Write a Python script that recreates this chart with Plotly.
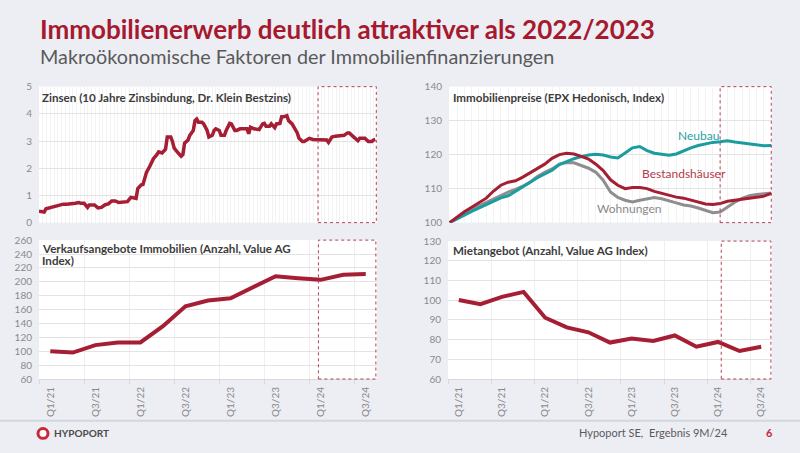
import plotly.graph_objects as go

W, H = 800, 453
def px(x): return x / W
def py(y): return 1 - y / H

# ---------------- data ----------------
# Zinsen (10 Jahre Zinsbindung), weekly index since Jan 2021
zins_weeks = [0,2,3,4,6,8,10,12,14,16,19,21,23,24,26,28,29,32,34,36,38,40,42,44,46,48,50,51,53,54,
              56,57,59,60,62,64,66,68,69,71,73,74,76,77,78,80,82,83,84,86,87,89,90,91,92,94,95,97,98,100,
              101,102,104,105,107,108,110,111,113,114,116,119,120,121,122,124,126,127,129,130,
              131,133,134,136,137,139,140,141,143,144,146,147,149,150,152,153,155,156,158,161,
              164,166,167,169,171,174,176,178,179,181,182,184,185,188,190,192,193,194]
zins_values = [0.42,0.42,0.39,0.51,0.54,0.6,0.62,0.65,0.68,0.68,0.68,0.71,0.74,0.71,0.71,0.56,0.65,0.65,0.54,0.56,
               0.65,0.69,0.8,0.8,0.74,0.74,0.74,0.77,0.93,0.92,0.89,1.25,1.39,1.4,1.85,2.08,2.35,2.5,2.6,2.56,
               2.7,3.15,3.15,2.98,2.74,2.58,2.44,2.5,2.92,3.04,3.21,3.39,3.75,3.81,3.69,3.69,3.63,3.39,3.15,3.21,
               3.39,3.45,3.39,3.21,3.21,3.39,3.65,3.63,3.39,3.39,3.45,3.45,3.45,3.27,3.51,3.45,3.42,3.42,3.63,3.65,
               3.54,3.54,3.63,3.49,3.63,3.65,3.89,3.89,3.93,3.75,3.63,3.51,3.3,3.1,2.98,2.98,3.04,3.1,3.06,3.06,
               3.06,3.04,2.95,3.15,3.18,3.18,3.21,3.3,3.3,3.18,3.13,3.01,3.1,3.1,2.98,2.98,3.04,3.06]

# EPX Hedonisch, monthly Jan 2021 - Sep 2024
months = list(range(45))
neubau = [100,101.2,102.2,103.3,104.3,105.3,106.3,107.3,107.9,109.2,110.7,112,113.2,114.3,115.4,117.1,118,118.8,
          119.4,119.9,120.1,119.9,119.3,119,120.5,122,122.4,121.2,120.4,120,119.8,120.2,121.2,122,122.7,123.2,
          123.6,123.8,124.1,123.7,123.4,123.2,123,122.6,122.7]
bestand = [100,101.6,103.2,104.5,105.8,107.2,109.3,111,111.9,112.3,113.4,114.7,115.8,117.2,118.9,120,120.4,120.2,
           119.5,118.7,117.2,115.3,112.6,111,110,110.3,110.3,110,109.2,108.6,108,107.5,107.2,106.7,106,105.5,
           105.3,105.6,106.3,106.6,106.9,107.1,107.3,107.8,108.6]
wohnungen = [100,101.5,102.8,103.9,104.9,106,107.1,108.1,109,109.8,110.7,111.9,113.6,114.8,115.8,117.2,117.7,117.6,
             116.9,116,114.8,112.5,109,107.4,106.6,106.1,106.6,107.1,107.4,107,106.5,105.8,105.2,104.9,104.3,103.6,
             102.9,103.1,104.5,106,107.1,107.9,108.3,108.5,108.7]

# quarterly series
quarters = ["Q1/21","Q2/21","Q3/21","Q4/21","Q1/22","Q2/22","Q3/22","Q4/22",
            "Q1/23","Q2/23","Q3/23","Q4/23","Q1/24","Q2/24","Q3/24"]
verkauf = [100,98.1,108.8,112.6,112.6,136,164.7,173,176.3,192.6,207.9,205,202.8,210.2,211.2]
miete = [100.1,98,101.7,104.2,91.1,86.2,83.7,78.5,80.5,79.3,82.1,76.4,78.8,74.2,76.4]
tick_quarters = quarters[::2]

# ---------------- style ----------------
BG = "#ECEEF4"
RED = "#A61E34"
TEAL = "#1B9DA0"
GREY = "#8E8E8E"
HGRID = "#E3E3E3"
VGRID = "#F3F3F3"
TICKC = "#8A8A8A"
FONT = "Lato"
q_idx = list(range(len(quarters)))

fig = go.Figure()
fig.add_trace(go.Scatter(x=zins_weeks, y=zins_values, mode="lines",
                         line=dict(color=RED, width=3.5), xaxis="x", yaxis="y"))
fig.add_trace(go.Scatter(x=months, y=wohnungen, mode="lines",
                         line=dict(color=GREY, width=3), xaxis="x2", yaxis="y2"))
fig.add_trace(go.Scatter(x=months, y=neubau, mode="lines",
                         line=dict(color=TEAL, width=3), xaxis="x2", yaxis="y2"))
fig.add_trace(go.Scatter(x=months, y=bestand, mode="lines",
                         line=dict(color=RED, width=3), xaxis="x2", yaxis="y2"))
fig.add_trace(go.Scatter(x=q_idx, y=verkauf, mode="lines",
                         line=dict(color=RED, width=4), xaxis="x3", yaxis="y3"))
fig.add_trace(go.Scatter(x=q_idx, y=miete, mode="lines",
                         line=dict(color=RED, width=4), xaxis="x4", yaxis="y4"))

def yax(domain, rng, dtick, anchor):
    return dict(domain=domain, range=rng, dtick=dtick, anchor=anchor, showgrid=True,
                gridcolor=HGRID, gridwidth=1, zeroline=False, showline=False, ticks="",
                tickfont=dict(family=FONT, size=10, color=TICKC), ticklabelstandoff=6,
                fixedrange=True)

TOPY = [py(222), py(82)]
BOTY = [py(383), py(240)]
LX = [px(39), px(377)]
RX = [px(449), px(772)]
RXB = [px(448), px(772)]

def qaxis(domain, anchor):
    return dict(domain=domain, range=[-0.5, 14.5], anchor=anchor, tickmode="array",
                tickvals=q_idx[::2], ticktext=tick_quarters, tickangle=-90, showgrid=False,
                zeroline=False, ticks="", showline=True, linecolor="#D9D9D9",
                tickfont=dict(family=FONT, size=10, color=TICKC), ticklabelstandoff=3,
                minor=dict(tickmode="array", tickvals=[i - 0.5 for i in range(0, 16, 2)],
                           showgrid=True, gridcolor="#EFEFEF", ticks="outside", ticklen=4,
                           tickcolor="#D9D9D9"))

fig.update_layout(
    xaxis=dict(domain=LX, range=[0, 195], anchor="y", showticklabels=False, showgrid=True,
               dtick=2.17, tick0=0, gridcolor=VGRID, zeroline=False, ticks=""),
    yaxis=yax(TOPY, [0, 5], 1, "x"),
    xaxis2=dict(domain=RX, range=[-0.1, 44.1], anchor="y2", showticklabels=False, showgrid=True,
                dtick=1, tick0=0, gridcolor=VGRID, zeroline=False, ticks=""),
    yaxis2=yax(TOPY, [100, 140], 10, "x2"),
    xaxis3=qaxis(LX, "y3"),
    yaxis3=yax(BOTY, [60, 260], 20, "x3"),
    xaxis4=qaxis(RXB, "y4"),
    yaxis4=yax([py(383), py(241)], [60, 130], 10, "x4"),
)

box = dict(type="rect", line=dict(color="#B5404F", width=1, dash="dot"), fillcolor="rgba(0,0,0,0)", layer="above")
shapes = [
    dict(box, xref="x", yref="y domain", x0=161, x1=194.6, y0=0, y1=1),
    dict(box, xref="x2", yref="y2 domain", x0=37, x1=44, y0=0, y1=1),
    dict(box, xref="x3", yref="y3 domain", x0=11.9, x1=14.45, y0=0, y1=1),
    dict(box, xref="x4", yref="y4 domain", x0=12.15, x1=14.45, y0=0, y1=1),
    # footer separator
    dict(type="line", xref="paper", yref="paper", x0=0, x1=1, y0=py(426), y1=py(426),
         line=dict(color="#D3D6DD", width=2)),
    # logo ring
    dict(type="circle", xref="paper", yref="paper", x0=px(38), x1=px(48), y0=py(444), y1=py(434),
         line=dict(color="#C8283C", width=3), fillcolor="white"),
]

ann = []
def text(x, y, s, size, color, bold=False, anchor="left", family=FONT):
    ann.append(dict(x=px(x), y=py(y), xref="paper", yref="paper", text=f"<b>{s}</b>" if bold else s,
                    showarrow=False, xanchor=anchor, yanchor="middle",
                    font=dict(family=family, size=size, color=color), align="left"))

text(38, 23, "Immobilienerwerb deutlich attraktiver als 2022/2023", 26, "#A6192E", bold=True)
text(38, 50, "Makroökonomische Faktoren der Immobilienfinanzierungen", 19.8, "#5A5A5A")
text(40, 93, "Zinsen (10 Jahre Zinsbindung, Dr. Klein Bestzins)", 11.6, "#3C3C3C", bold=True)
text(451, 93, "Immobilienpreise (EPX Hedonisch, Index)", 11.6, "#3C3C3C", bold=True)
text(40, 248.5, "Verkaufsangebote Immobilien (Anzahl, Value AG", 11.6, "#3C3C3C", bold=True)
text(40, 261, "Index)", 11.6, "#3C3C3C", bold=True)
text(451, 251, "Mietangebot (Anzahl, Value AG Index)", 11.6, "#3C3C3C", bold=True)
text(698, 132, "Neubau", 12, "#2A9FA3", anchor="center")
text(684, 171, "Bestandshäuser", 12, "#B5394B", anchor="center")
text(629, 207, "Wohnungen", 12, "#8A8A8A", anchor="center")
text(52, 439, "HYPOPORT", 10, "#4A4A4A", bold=True)
text(730, 438, "Hypoport SE,  Ergebnis 9M/24", 11, "#5A5A5A", anchor="right")
text(769, 438, "6", 11, "#C8283C", bold=True, anchor="center")

fig.update_layout(
    width=W, height=H, margin=dict(l=0, r=0, t=0, b=0),
    paper_bgcolor=BG, plot_bgcolor="white", showlegend=False,
    shapes=shapes, annotations=ann, font=dict(family=FONT),
)

fig.write_html("out.html", config={"displayModeBar": False},
               post_script="document.body.style.margin='0';document.body.style.overflow='hidden';")
